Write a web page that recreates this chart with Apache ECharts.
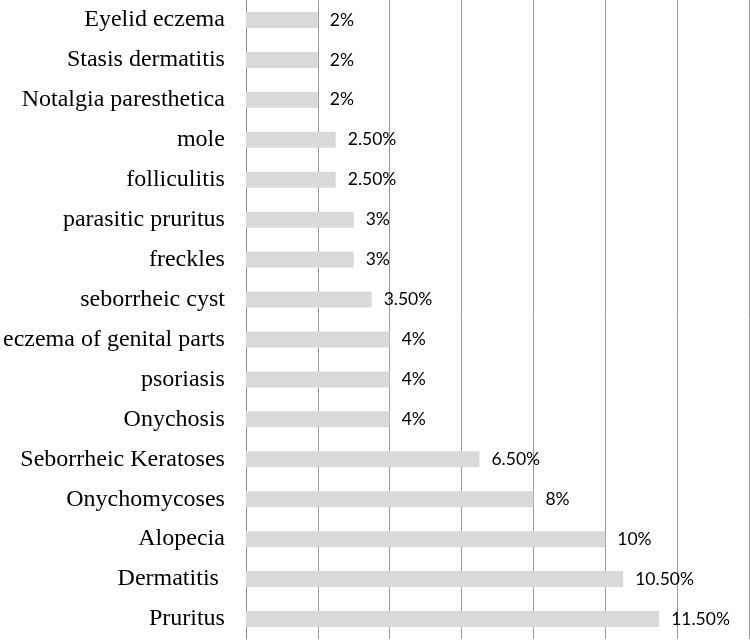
<!DOCTYPE html>
<html>
<head>
<meta charset="utf-8">
<script src="https://cdn.jsdelivr.net/npm/echarts@6/dist/echarts.min.js"></script>
<style>
  html, body { margin: 0; padding: 0; background: #fff; }
  #chart { width: 750px; height: 641px; }
</style>
</head>
<body>
<div id="chart"></div>
<script>
// bottom to top, as drawn on the category axis
const categories = [
  'Pruritus', 'Dermatitis ', 'Alopecia', 'Onychomycoses', 'Seborrheic Keratoses',
  'Onychosis', 'psoriasis', 'eczema of genital parts', 'seborrheic cyst', 'freckles',
  'parasitic pruritus', 'folliculitis', 'mole', 'Notalgia paresthetica',
  'Stasis dermatitis', 'Eyelid eczema'
];
const percentages = [11.5, 10.5, 10, 8, 6.5, 4, 4, 4, 3.5, 3, 3, 2.5, 2.5, 2, 2, 2];

function fmt(v) {
  return (Number.isInteger(v) ? String(v) : v.toFixed(2)) + '%';
}

const chart = echarts.init(document.getElementById('chart'));
chart.setOption({
  animation: false,
  grid: { left: 245, right: 1, top: -1, bottom: 2, containLabel: false },
  xAxis: {
    type: 'value',
    min: 0,
    max: 14,
    interval: 2,
    axisLine: { show: false },
    axisTick: { show: false },
    axisLabel: { show: false },
    splitLine: { lineStyle: { color: '#9a9a9a', width: 1 } }
  },
  yAxis: {
    type: 'category',
    data: categories,
    axisLine: { lineStyle: { color: '#8a8a8a', width: 1 } },
    axisTick: { length: 5, lineStyle: { color: '#8a8a8a' } },
    axisLabel: {
      margin: 21,
      color: '#000',
      fontFamily: '"Liberation Serif", "DejaVu Serif", serif',
      fontSize: 24
    }
  },
  series: [
    {
      type: 'bar',
      data: percentages,
      barWidth: 16,
      itemStyle: { color: '#d9d9d9' },
      label: {
        show: true,
        position: 'right',
        distance: 12,
        color: '#000',
        fontFamily: 'Lato, "Open Sans", sans-serif',
        fontSize: 17.5,
        formatter: p => fmt(p.value)
      }
    }
  ]
});
</script>
</body>
</html>
